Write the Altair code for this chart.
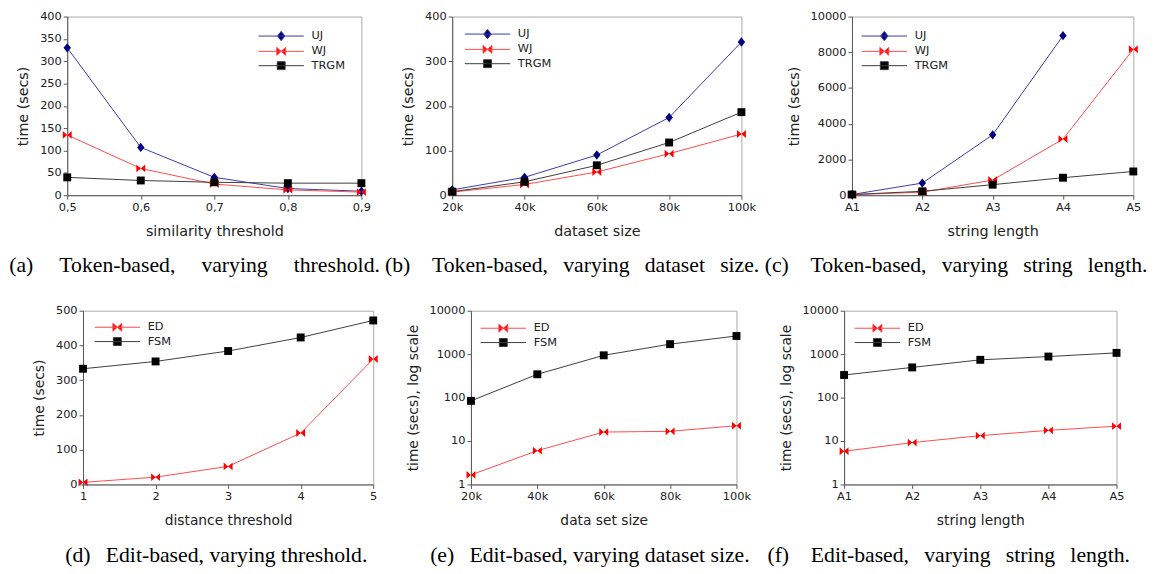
import altair as alt
import pandas as pd

# ---------------- data ----------------
# (a) token-based, varying threshold
a_x = ["0,5", "0,6", "0,7", "0,8", "0,9"]
a_uj = [330, 107, 40, 15, 9]
a_wj = [135, 60, 25, 12, 7]
a_trgm = [40, 33, 29, 27, 27]
# (b) token-based, varying dataset size
b_x = ["20k", "40k", "60k", "80k", "100k"]
b_uj = [12, 40, 90, 174, 343]
b_wj = [7, 24, 52, 93, 137]
b_trgm = [8, 30, 67, 118, 186]
# (c) token-based, varying string length
c_x = ["A1", "A2", "A3", "A4", "A5"]
c_uj = [40, 680, 3380, 8930]
c_wj = [30, 170, 850, 3140, 8170]
c_trgm = [40, 220, 590, 980, 1330]
# (d) edit-based, varying threshold
d_x = ["1", "2", "3", "4", "5"]
d_ed = [6, 21, 52, 148, 361]
d_fsm = [333, 354, 384, 423, 472]
# (e) edit-based, varying dataset size (log)
e_x = ["20k", "40k", "60k", "80k", "100k"]
e_ed = [1.66, 6.0, 16.1, 16.7, 22.5]
e_fsm = [84, 344, 940, 1700, 2620]
# (f) edit-based, varying string length (log)
f_x = ["A1", "A2", "A3", "A4", "A5"]
f_ed = [5.8, 9.2, 13.3, 17.6, 22]
f_fsm = [331, 495, 740, 880, 1070]

W = "\u2003\u2009"   # wide justified gap
M = "\u2002\u2009"   # medium justified gap
captions = [
    "(a)" + W + "Token-based," + W + "varying" + W + "threshold.",
    "(b)\u2003Token-based," + M + "varying" + M + "dataset" + M + "size.",
    "(c)\u2003Token-based," + M + "varying" + M + "string" + M + "length.",
    "(d)" + M + "Edit-based, varying threshold.",
    "(e)" + M + "Edit-based, varying dataset size.",
    "(f)\u2003Edit-based," + M + "varying" + M + "string" + M + "length.",
]

# ---------------- styles ----------------
MARKER_FILL = {"UJ": "#000080", "WJ": "#ff0000", "TRGM": "#000000", "ED": "#ff0000", "FSM": "#000000"}
LINE_COLOR = {"UJ": "#3a3aa6", "WJ": "#ff4a4a", "TRGM": "#3c3c3c", "ED": "#ff4a4a", "FSM": "#3c3c3c"}
MARK_PATH = {
    "UJ": "M0,-0.95L0.75,0L0,0.95L-0.75,0Z",
    "WJ": "M-0.9,-0.8L0,0L-0.9,0.8Z M0.9,-0.8L0,0L0.9,0.8Z",
    "TRGM": "M-0.8,-0.8H0.8V0.8H-0.8Z",
}
MARK_PATH["ED"] = MARK_PATH["WJ"]
MARK_PATH["FSM"] = MARK_PATH["TRGM"]
LEG_LINE = "M-4.6,0H4.6"
INDEP = dict(color="independent", fill="independent", shape="independent",
             stroke="independent", x="independent", y="independent")


def make_df(xlabels, series):
    rows = []
    for name, vals in series.items():
        for i, v in enumerate(vals):
            rows.append({"x": xlabels[i], "idx": i, "series": name, "value": v})
    return pd.DataFrame(rows)


def panel(xlabels, series, x_title, y_title, y_scale, y_values, w, h,
          leg_x, leg_y, caption, cap_dx, title_size):
    df = make_df(xlabels, series)
    names = list(series)
    xenc = alt.X("x:N", sort=xlabels,
                 scale=alt.Scale(type="point", padding=0, domain=xlabels),
                 axis=alt.Axis(title=x_title, labelAngle=0, titleFontSize=title_size))
    yenc = alt.Y("value:Q", scale=y_scale,
                 axis=alt.Axis(title=y_title, values=y_values, format="d",
                               titleFontSize=title_size))
    base = alt.Chart(df)
    lines = base.mark_line(strokeWidth=1).encode(
        x=xenc, y=yenc,
        color=alt.Color("series:N", legend=None,
                        scale=alt.Scale(domain=names, range=[LINE_COLOR[n] for n in names])),
        detail="series:N",
        order="idx:Q",
    )
    pts = base.mark_point(filled=True, size=100, opacity=1).encode(
        x=xenc, y=yenc,
        shape=alt.Shape("series:N", legend=None,
                        scale=alt.Scale(domain=names, range=[MARK_PATH[n] for n in names])),
        fill=alt.Fill("series:N", legend=None,
                      scale=alt.Scale(domain=names, range=[MARKER_FILL[n] for n in names])),
    )
    leg = alt.Legend(title=None, orient="none", legendX=leg_x, legendY=leg_y)
    legend_layer = base.mark_point(filled=True, size=100, opacity=0).encode(
        x=xenc, y=yenc,
        shape=alt.Shape("series:N", legend=leg,
                        scale=alt.Scale(domain=names,
                                        range=[LEG_LINE + MARK_PATH[n] for n in names])),
        fill=alt.Fill("series:N", legend=leg,
                      scale=alt.Scale(domain=names, range=[MARKER_FILL[n] for n in names])),
        stroke=alt.Stroke("series:N", legend=leg,
                          scale=alt.Scale(domain=names, range=[LINE_COLOR[n] for n in names])),
    )
    return alt.layer(lines, pts, legend_layer).resolve_scale(
        shape="independent", fill="independent", stroke="independent"
    ).properties(
        width=w, height=h,
        title=alt.TitleParams(caption, dx=cap_dx),
    )


def spacer(w):
    return alt.Chart(pd.DataFrame({"s": [0]})).mark_point(opacity=0, size=0).encode(
        x=alt.X("s:Q", axis=None), y=alt.Y("s:Q", axis=None)
    ).properties(width=w, height=1, view=alt.ViewBackground(stroke="transparent"))


lin = lambda hi: alt.Scale(domain=[0, hi], nice=False, zero=True)
logs = alt.Scale(type="log", domain=[1, 10000], nice=False)

pa = panel(a_x, {"UJ": a_uj, "WJ": a_wj, "TRGM": a_trgm}, "similarity threshold", "time (secs)",
           lin(400), list(range(0, 401, 50)), 298, 181, 211, 14, captions[0], -20, 14.5)
pb = panel(b_x, {"UJ": b_uj, "WJ": b_wj, "TRGM": b_trgm}, "dataset size", "time (secs)",
           lin(400), list(range(0, 401, 100)), 293, 181, 30, 12, captions[1], -25, 14.5)
pc = panel(c_x, {"UJ": c_uj, "WJ": c_wj, "TRGM": c_trgm}, "string length", "time (secs)",
           lin(10000), list(range(0, 10001, 2000)), 285, 181, 27, 14, captions[2], -37, 14.5)
pd_ = panel(d_x, {"ED": d_ed, "FSM": d_fsm}, "distance threshold", "time (secs)",
            lin(500), list(range(0, 501, 100)), 294, 176, 29, 11, captions[3], -12, 14)
pe = panel(e_x, {"ED": e_ed, "FSM": e_fsm}, "data set size", "time (secs), log scale",
           logs, [1, 10, 100, 1000, 10000], 269, 176, 27, 12, captions[4], -14, 14)
pf = panel(f_x, {"ED": f_ed, "FSM": f_fsm}, "string length", "time (secs), log scale",
           logs, [1, 10, 100, 1000, 10000], 276, 176, 28, 12, captions[5], -32, 14)

row1 = alt.hconcat(spacer(56), pa, spacer(92), pb, spacer(112), pc,
                   spacing=0, bounds="flush").resolve_scale(**INDEP)
row2 = alt.hconcat(spacer(72), pd_, spacer(99), pe, spacer(109), pf,
                   spacing=0, bounds="flush").resolve_scale(**INDEP)

chart = alt.vconcat(row1, row2, spacing=27).resolve_scale(**INDEP).properties(
    padding={"left": 0, "top": -2, "right": 0, "bottom": 0}
).configure_view(
    stroke="#aaaaaa", strokeWidth=1
).configure_axis(
    labelFont="DejaVu Sans", labelFontSize=11.5, labelColor="#222222",
    titleFont="DejaVu Sans", titleFontWeight="normal", titleColor="#222222",
    domainColor="#555555", tickColor="#555555", tickSize=4, labelPadding=2,
    grid=False,
).configure_axisX(titlePadding=12).configure_axisY(titlePadding=9).configure_legend(
    labelFont="DejaVu Sans", labelFontSize=11.5, labelColor="#222222",
    symbolSize=100, symbolStrokeWidth=1, symbolOpacity=1, labelOffset=25,
    rowPadding=1.5, padding=0,
).configure_title(
    font="Liberation Serif", fontSize=22, fontWeight="normal", color="#000000",
    orient="bottom", anchor="middle", offset=18,
)

chart.save("out.html", embed_options={"renderer": "svg", "actions": False})
